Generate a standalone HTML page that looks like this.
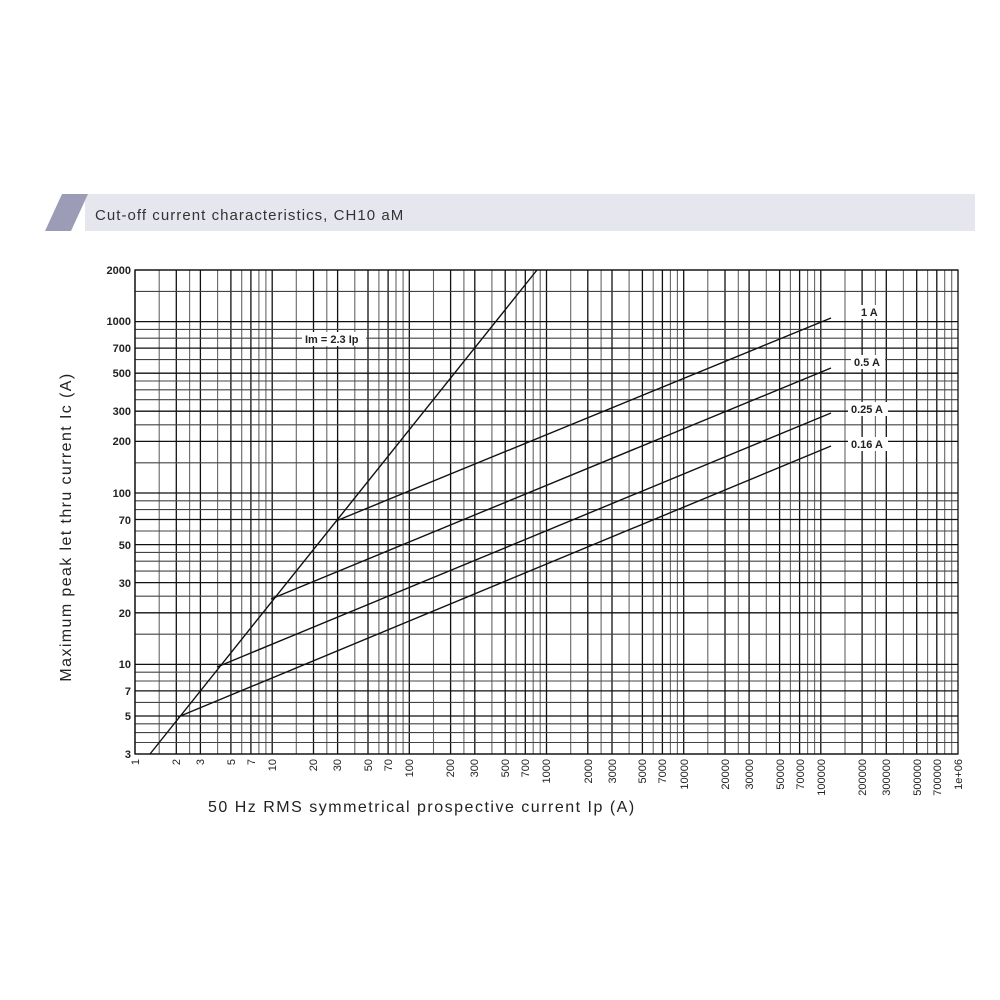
<!DOCTYPE html>
<html><head><meta charset="utf-8"><style>
html,body{margin:0;padding:0;background:#fff;width:1000px;height:1000px;overflow:hidden}
svg{display:block}
.yl{font:bold 11px "Liberation Sans",sans-serif;fill:#222;text-anchor:end}
.xl{font:11px "Liberation Sans",sans-serif;fill:#222;text-anchor:end}
.cl{font:bold 11px "Liberation Sans",sans-serif;fill:#222}
</style></head><body>
<svg id="s" width="1000" height="1000" xmlns="http://www.w3.org/2000/svg">
<rect x="85" y="194" width="890" height="37" fill="#e6e6ee"/>
<polygon points="62,194 88,194 71,231 45,231" fill="#9c9cb6"/>
<text x="95" y="220" style="font:15px 'Liberation Sans',sans-serif;fill:#333;letter-spacing:1.05px">Cut-off current characteristics, CH10 aM</text>
<g id="grid"></g>
<rect x="135" y="270" width="823" height="484" fill="none" stroke="#111" stroke-width="1.3"/>
<g stroke="#111" stroke-width="1.4" fill="none">
<line x1="150" y1="754" x2="537" y2="270"/>
<line x1="336" y1="521" x2="831" y2="318"/>
<line x1="271" y1="599" x2="831" y2="368"/>
<line x1="217" y1="667" x2="831" y2="413"/>
<line x1="178" y1="717" x2="831" y2="446"/>
</g>
<rect x="302" y="332" width="64" height="14" fill="#fff"/>
<text class="cl" x="305" y="343">Im = 2.3 Ip</text>
<rect x="858" y="305" width="26" height="14" fill="#fff"/>
<text class="cl" x="861" y="316">1 A</text>
<rect x="851" y="355" width="34" height="14" fill="#fff"/>
<text class="cl" x="854" y="366">0.5 A</text>
<rect x="848" y="402" width="40" height="14" fill="#fff"/>
<text class="cl" x="851" y="413">0.25 A</text>
<rect x="848" y="437" width="40" height="14" fill="#fff"/>
<text class="cl" x="851" y="448">0.16 A</text>
<g>
<text class="yl" x="131" y="758">3</text>
<text class="yl" x="131" y="720">5</text>
<text class="yl" x="131" y="695">7</text>
<text class="yl" x="131" y="668">10</text>
<text class="yl" x="131" y="617">20</text>
<text class="yl" x="131" y="587">30</text>
<text class="yl" x="131" y="549">50</text>
<text class="yl" x="131" y="524">70</text>
<text class="yl" x="131" y="497">100</text>
<text class="yl" x="131" y="445">200</text>
<text class="yl" x="131" y="415">300</text>
<text class="yl" x="131" y="377">500</text>
<text class="yl" x="131" y="352">700</text>
<text class="yl" x="131" y="325">1000</text>
<text class="yl" x="131" y="274">2000</text>
</g>
<g id="xl">
<text class="xl" transform="translate(139,759) rotate(-90)">1</text>
<text class="xl" transform="translate(180,759) rotate(-90)">2</text>
<text class="xl" transform="translate(204,759) rotate(-90)">3</text>
<text class="xl" transform="translate(235,759) rotate(-90)">5</text>
<text class="xl" transform="translate(255,759) rotate(-90)">7</text>
<text class="xl" transform="translate(276,759) rotate(-90)">10</text>
<text class="xl" transform="translate(317,759) rotate(-90)">20</text>
<text class="xl" transform="translate(341,759) rotate(-90)">30</text>
<text class="xl" transform="translate(372,759) rotate(-90)">50</text>
<text class="xl" transform="translate(392,759) rotate(-90)">70</text>
<text class="xl" transform="translate(413,759) rotate(-90)">100</text>
<text class="xl" transform="translate(454,759) rotate(-90)">200</text>
<text class="xl" transform="translate(478,759) rotate(-90)">300</text>
<text class="xl" transform="translate(509,759) rotate(-90)">500</text>
<text class="xl" transform="translate(529,759) rotate(-90)">700</text>
<text class="xl" transform="translate(550,759) rotate(-90)">1000</text>
<text class="xl" transform="translate(592,759) rotate(-90)">2000</text>
<text class="xl" transform="translate(616,759) rotate(-90)">3000</text>
<text class="xl" transform="translate(646,759) rotate(-90)">5000</text>
<text class="xl" transform="translate(666,759) rotate(-90)">7000</text>
<text class="xl" transform="translate(688,759) rotate(-90)">10000</text>
<text class="xl" transform="translate(729,759) rotate(-90)">20000</text>
<text class="xl" transform="translate(753,759) rotate(-90)">30000</text>
<text class="xl" transform="translate(784,759) rotate(-90)">50000</text>
<text class="xl" transform="translate(804,759) rotate(-90)">70000</text>
<text class="xl" transform="translate(825,759) rotate(-90)">100000</text>
<text class="xl" transform="translate(866,759) rotate(-90)">200000</text>
<text class="xl" transform="translate(890,759) rotate(-90)">300000</text>
<text class="xl" transform="translate(921,759) rotate(-90)">500000</text>
<text class="xl" transform="translate(941,759) rotate(-90)">700000</text>
<text class="xl" transform="translate(962,759) rotate(-90)">1e+06</text>
</g>
<text transform="translate(71,527) rotate(-90)" text-anchor="middle" style="font:16px 'Liberation Sans',sans-serif;fill:#222;letter-spacing:1.4px">Maximum peak let thru current Ic (A)</text>
<text x="208" y="812" style="font:16px 'Liberation Sans',sans-serif;fill:#222;letter-spacing:1.5px">50 Hz RMS symmetrical prospective current Ip (A)</text>
</svg>
<script>
var g=document.getElementById('grid'),h='';
function X(v){return 135+137.17*Math.log10(v)}
function Y(v){return 754-171.4*(Math.log10(v)-Math.log10(3))}
var xm=[1,1.5,2,2.5,3,4,5,6,7,8,9];
for(var d=0;d<6;d++)for(var i=0;i<xm.length;i++){var v=xm[i]*Math.pow(10,d);var x=X(v).toFixed(1);
var dark=[1,2,3,5,7].indexOf(xm[i])>=0;
h+='<line x1="'+x+'" y1="270" x2="'+x+'" y2="754" stroke="'+(dark?'#111':'#666')+'" stroke-width="'+(dark?1.3:1.1)+'"/>';}
var ym=[1,1.5,2,2.5,3,3.5,4,4.5,5,6,7,8,9];
for(var d=0;d<4;d++)for(var i=0;i<ym.length;i++){var v=ym[i]*Math.pow(10,d);if(v<3||v>2000)continue;var y=Y(v).toFixed(1);
var dark=[1,2,3,5,7].indexOf(ym[i])>=0;
h+='<line x1="135" y1="'+y+'" x2="958" y2="'+y+'" stroke="'+(dark?'#111':'#444')+'" stroke-width="'+(dark?1.3:1.1)+'"/>';}
g.innerHTML=h;
</script>
</body></html>
